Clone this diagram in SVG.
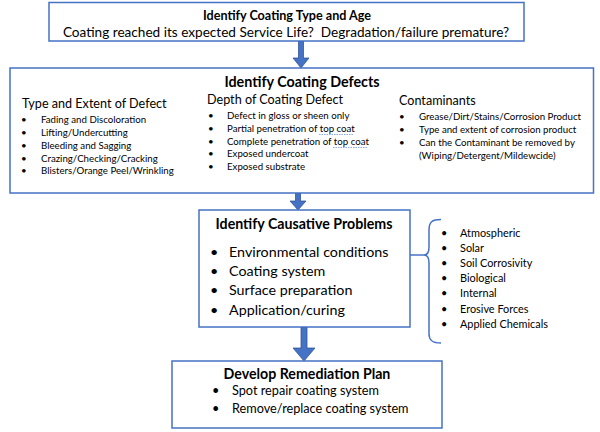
<svg xmlns="http://www.w3.org/2000/svg" width="600" height="432" viewBox="0 0 600 432">
<style>
.box{fill:#fff;stroke:#4472C4;stroke-width:1.5}
.arr{fill:#4472C4;stroke:#2F528F;stroke-width:0.75}
.con{fill:none;stroke:#4472C4;stroke-width:1.5}
text{font-family:Lato,"Liberation Sans",sans-serif;fill:#000}
.b{font-weight:bold}
.c{text-anchor:middle}
.sm{font-size:9.7px}
.hd{font-size:12.6px}
.md{font-size:14.3px}
.ls{font-size:10.9px}
.sp{stroke:#8EA9DB;stroke-width:1;stroke-dasharray:1.5 1}
</style>
<rect width="600" height="432" fill="#fff"/>
<g id="connectors">
<polygon class="arr" points="298.5,41 303.5,41 303.5,58 309,58 301,68 293,58 298.5,58"/>
<polygon class="arr" points="295.5,193 300.5,193 300.5,201 306,201 298,210 290,201 295.5,201"/>
<polygon class="arr" points="301,327 307,327 307,348 315,348 304,361 293,348 301,348"/>
<path class="con" d="M410,255 L424,255"/>
<path class="con" d="M441,219.5 C432,219.5 429,222 429,230 L429,247 C429,252 427,255 424,255 C427,255 429,258 429,263 L429,334 C429,340 432,343 441,343"/>
</g>
<g id="coating-type">
<rect class="box" x="49" y="2.5" width="475" height="38.5"/>
<text class="b c" x="287" y="19.5" font-size="12.6">Identify Coating Type and Age</text>
<text class="c" x="286" y="36.5" font-size="13.6" xml:space="preserve" style="white-space:pre">Coating reached its expected Service Life?  Degradation/failure premature?</text>
</g>
<g id="coating-defects">
<rect class="box" x="10" y="68" width="583.5" height="125"/>
<text class="b c" x="302" y="87" font-size="14.3">Identify Coating Defects</text>
<text class="hd" x="22" y="108">Type and Extent of Defect</text>
<g class="sm">
<text x="21" y="123">•</text><text x="41" y="123">Fading and Discoloration</text>
<text x="21" y="136">•</text><text x="41" y="136">Lifting/Undercutting</text>
<text x="21" y="149">•</text><text x="41" y="149">Bleeding and Sagging</text>
<text x="21" y="162">•</text><text x="41" y="162">Crazing/Checking/Cracking</text>
<text x="21" y="174">•</text><text x="41" y="174">Blisters/Orange Peel/Wrinkling</text>
</g>
<text class="hd" x="207" y="104">Depth of Coating Defect</text>
<g class="sm">
<text x="208" y="119">•</text><text x="227" y="119">Defect in gloss or sheen only</text>
<text x="208" y="132">•</text><text x="227" y="132">Partial penetration of top coat</text>
<text x="208" y="145">•</text><text x="227" y="145">Complete penetration of top coat</text>
<text x="208" y="157">•</text><text x="227" y="157">Exposed undercoat</text>
<text x="208" y="170">•</text><text x="227" y="170">Exposed substrate</text>
</g>
<line class="sp" x1="319" y1="134.5" x2="353" y2="134.5"/>
<line class="sp" x1="333" y1="147.5" x2="367" y2="147.5"/>
<text class="hd" x="399" y="105">Contaminants</text>
<g class="sm">
<text x="399" y="120">•</text><text x="419" y="120">Grease/Dirt/Stains/Corrosion Product</text>
<text x="399" y="133">•</text><text x="419" y="133">Type and extent of corrosion product</text>
<text x="399" y="146">•</text><text x="419" y="146">Can the Contaminant be removed by</text>
<text x="419" y="159">(Wiping/Detergent/Mildewcide)</text>
</g>
</g>
<g id="causative-problems">
<rect class="box" x="199" y="210" width="211" height="117"/>
<text class="b c" x="304" y="229" font-size="14.2">Identify Causative Problems</text>
<g class="md">
<text x="210" y="257">•</text><text x="229" y="257">Environmental conditions</text>
<text x="210" y="276">•</text><text x="229" y="276">Coating system</text>
<text x="210" y="295">•</text><text x="229" y="295">Surface preparation</text>
<text x="210" y="315">•</text><text x="229" y="315">Application/curing</text>
</g>
</g>
<g id="environment-list" class="ls">
<text x="441" y="237">•</text><text x="460" y="237">Atmospheric</text>
<text x="441" y="252">•</text><text x="460" y="252">Solar</text>
<text x="441" y="267">•</text><text x="460" y="267">Soil Corrosivity</text>
<text x="441" y="282">•</text><text x="460" y="282">Biological</text>
<text x="441" y="297">•</text><text x="460" y="297">Internal</text>
<text x="441" y="313">•</text><text x="460" y="313">Erosive Forces</text>
<text x="441" y="328">•</text><text x="460" y="328">Applied Chemicals</text>
</g>
<g id="remediation-plan">
<rect class="box" x="172" y="361" width="270" height="67"/>
<text class="b c" x="307" y="379" font-size="14.2">Develop Remediation Plan</text>
<g font-size="12.7">
<text x="212" y="395">•</text><text x="232" y="395">Spot repair coating system</text>
<text x="212" y="413">•</text><text x="232" y="413">Remove/replace coating system</text>
</g>
</g>
</svg>
